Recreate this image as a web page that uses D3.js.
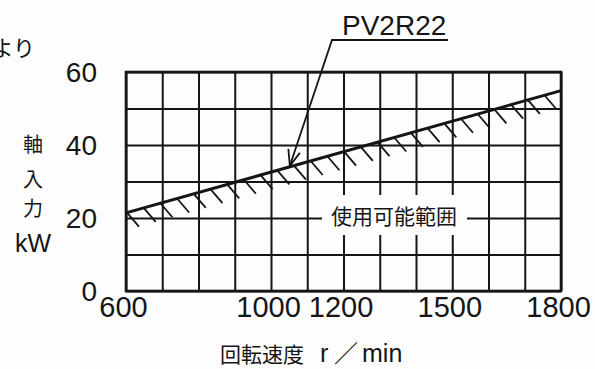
<!DOCTYPE html>
<html><head><meta charset="utf-8">
<script src="https://cdn.jsdelivr.net/npm/d3@7"></script>
<style>
html,body{margin:0;padding:0;background:#fdfdfd;}
svg{display:block;}
</style></head>
<body>
<svg id="chart" width="595" height="369"></svg>
<script>
// ---- data ----
const speedRpm = [600, 1800];            // r/min
const shaftPowerKW = [21.4, 54.9];       // kW (PV2R22 upper limit)
const xTickLabels = [600, 1000, 1200, 1500, 1800];
const yTickLabels = [0, 20, 40, 60];
const xGridStep = 100, yGridStep = 10;
const seriesName = "PV2R22";
const regionLabel = "使用可能範囲";
const xTitle = ["回転速度", "r", "／", "min"];
const yTitle = ["軸", "入", "力", "kW"];

const svg = d3.select("#chart");
const L = 126, R = 561, T = 72, B = 291;
const x = d3.scaleLinear().domain([600, 1800]).range([L, R]);
const y = d3.scaleLinear().domain([0, 60]).range([B, T]);
const ink = "#151515";

// grid
const gx = d3.axisBottom(x).tickValues(d3.range(600, 1801, xGridStep)).tickSize(-(B - T)).tickFormat("");
const gy = d3.axisLeft(y).tickValues(d3.range(0, 61, yGridStep)).tickSize(-(R - L)).tickFormat("");
const gg = svg.append("g");
gg.append("g").attr("transform", `translate(0,${B})`).call(gx)
  .call(g => g.select(".domain").remove())
  .selectAll("line").attr("stroke", ink).attr("stroke-width", 2);
gg.append("g").attr("transform", `translate(${L},0)`).call(gy)
  .call(g => g.select(".domain").remove())
  .selectAll("line").attr("stroke", ink).attr("stroke-width", 2);

// frame
svg.append("rect").attr("x", L).attr("y", T).attr("width", R - L).attr("height", B - T)
  .attr("fill", "none").attr("stroke", ink).attr("stroke-width", 2.6);

// region label with gap in grid
svg.append("rect").attr("x", 322).attr("y", 195).attr("width", 145).attr("height", 40).attr("fill", "#fdfdfd");
svg.append("text").attr("x", 394).attr("y", 224).attr("text-anchor", "middle")
  .attr("font-family", "Noto Sans CJK JP").attr("font-size", 21).attr("fill", ink).text(regionLabel);

// line
const data = speedRpm.map((s, i) => ({s, p: shaftPowerKW[i]}));
const lineGen = d3.line().x(d => x(d.s)).y(d => y(d.p));
const f = d3.scaleLinear().domain(speedRpm).range(shaftPowerKW);

// hatch
const hatch = d3.range(L + 1, R - 2, 16.7);
svg.append("g").selectAll("line").data(hatch).join("line")
  .attr("x1", px => px).attr("y1", px => y(f(x.invert(px))))
  .attr("x2", px => px + 12).attr("y2", px => y(f(x.invert(px))) + 14)
  .attr("stroke", ink).attr("stroke-width", 1.8);

svg.append("path").datum(data).attr("d", lineGen)
  .attr("fill", "none").attr("stroke", ink).attr("stroke-width", 3);

// leader with arrow
const tipS = 1052;
const tip = [x(tipS), y(f(tipS)) - 1];
svg.append("path").attr("d", `M448,40 L332,40 L${tip[0]},${tip[1]}`)
  .attr("fill", "none").attr("stroke", ink).attr("stroke-width", 1.8);
svg.append("path").attr("d", `M${tip[0]-1.5},${tip[1]-17} L${tip[0]},${tip[1]} L${tip[0]+10},${tip[1]-13}`)
  .attr("fill", "none").attr("stroke", ink).attr("stroke-width", 1.8);
svg.append("text").attr("x", 342).attr("y", 35).attr("font-family", "Liberation Sans")
  .attr("font-size", 28).attr("fill", ink).text(seriesName);

// axes labels
const ax = d3.axisBottom(x).tickValues(xTickLabels).tickSize(0).tickPadding(0).tickFormat(d3.format("d"));
svg.append("g").attr("transform", `translate(-3,${B})`).call(ax)
  .call(g => g.select(".domain").remove())
  .selectAll("text").attr("y", 26).attr("dy", 0)
  .attr("font-family", "Liberation Sans").attr("font-size", 29).attr("fill", ink);
const ay = d3.axisLeft(y).tickValues(yTickLabels).tickSize(0).tickPadding(0);
svg.append("g").attr("transform", `translate(97,0)`).call(ay)
  .call(g => g.select(".domain").remove())
  .selectAll("text").attr("dy", "0.35em")
  .attr("font-family", "Liberation Sans").attr("font-size", 28).attr("fill", ink);

// titles
svg.append("text").attr("x", 220).attr("y", 362).attr("font-family", "Noto Sans CJK JP")
  .attr("font-size", 21).attr("fill", ink).text(xTitle[0]);
svg.append("text").attr("x", 320).attr("y", 362).attr("font-family", "Liberation Sans")
  .attr("font-size", 25).attr("fill", ink).text(xTitle[1]);
svg.append("text").attr("x", 334).attr("y", 362).attr("font-family", "Noto Sans CJK JP")
  .attr("font-size", 24).attr("fill", ink).text(xTitle[2]);
svg.append("text").attr("x", 362).attr("y", 362).attr("font-family", "Liberation Sans")
  .attr("font-size", 25).attr("fill", ink).text(xTitle[3]);
const yPos = [152, 187, 216, 252];
yTitle.forEach((t, i) => {
  svg.append("text").attr("x", 33).attr("y", yPos[i]).attr("text-anchor", "middle")
    .attr("font-family", i === 3 ? "Liberation Sans" : "Noto Sans CJK JP")
    .attr("font-size", i === 3 ? 25 : 20).attr("fill", ink).text(t);
});
svg.append("text").attr("x", 35).attr("y", 56).attr("text-anchor", "end")
  .attr("font-family", "Noto Sans CJK JP").attr("font-size", 22).attr("fill", ink).text("より");
</script>
</body></html>
